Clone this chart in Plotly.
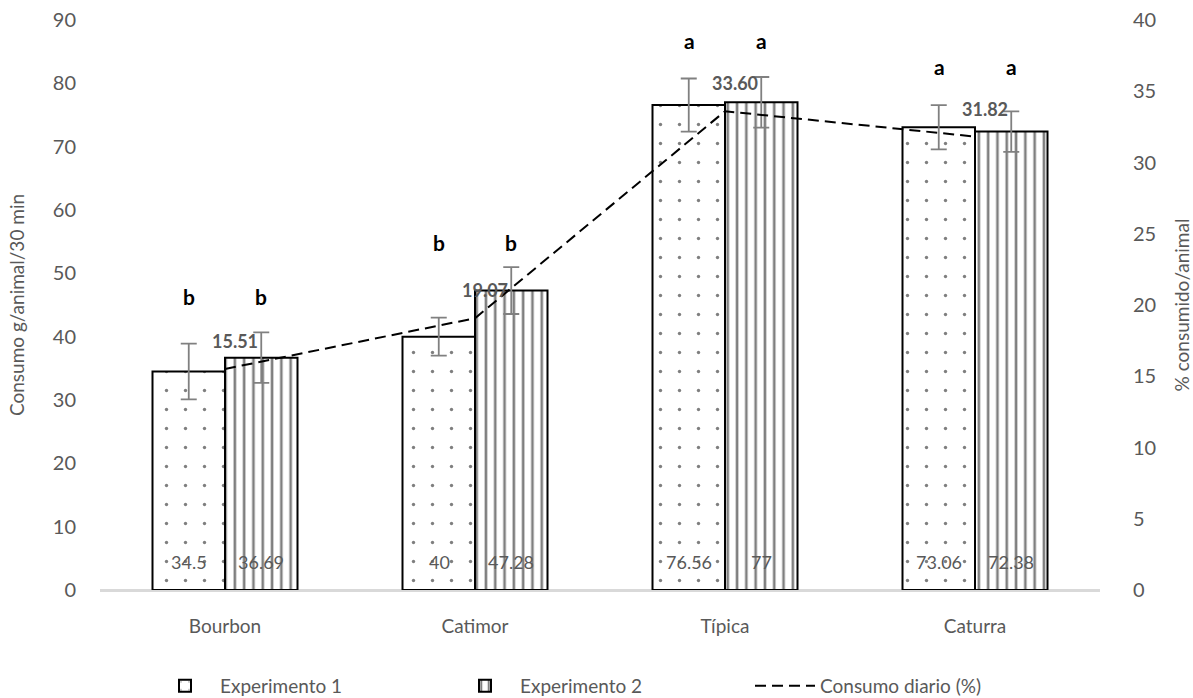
import plotly.graph_objects as go

categories = ["Bourbon", "Catimor", "Típica", "Caturra"]
exp1 = [34.5, 40, 76.56, 73.06]
exp2 = [36.69, 47.28, 77, 72.38]
exp1_err = [4.4, 3.0, 4.2, 3.5]
exp2_err = [4.0, 3.7, 4.0, 3.2]
consumo = [15.51, 19.07, 33.60, 31.82]
exp1_letters = ["b", "b", "a", "a"]
exp2_letters = ["b", "b", "a", "a"]
letter_y = [46.4, 54.8, 86.8, 82.6]
exp1_text = ["34.5", "40", "76.56", "73.06"]
exp2_text = ["36.69", "47.28", "77", "72.38"]

GRAY = "#595959"
FONT = "Lato, 'Open Sans', sans-serif"

fig = go.Figure()
fig.add_trace(go.Bar(
    name="Experimento 1", x=categories, y=exp1,
    marker=dict(color="white", line=dict(color="black", width=2),
                pattern=dict(shape=".", size=19, solidity=0.025, fgcolor="black", bgcolor="white")),
    error_y=dict(type="data", array=exp1_err, color="#808080", thickness=1.8, width=8),
))
fig.add_trace(go.Bar(
    name="Experimento 2", x=categories, y=exp2,
    marker=dict(color="white", line=dict(color="black", width=2),
                pattern=dict(shape="|", size=9.3, solidity=0.28, fgcolor="black", bgcolor="white")),
    error_y=dict(type="data", array=exp2_err, color="#808080", thickness=1.8, width=8),
))
fig.add_trace(go.Scatter(
    name="Consumo diario (%)", x=categories, y=consumo, yaxis="y2",
    mode="lines", line=dict(color="black", width=2, dash="11px,6px"),
))

for i, c in enumerate(categories):
    fig.add_annotation(x=c, y=letter_y[i], text="<b>%s</b>" % exp1_letters[i], showarrow=False,
                       xshift=-36, font=dict(size=21, color="black", family=FONT))
    fig.add_annotation(x=c, y=letter_y[i], text="<b>%s</b>" % exp2_letters[i], showarrow=False,
                       xshift=36, font=dict(size=21, color="black", family=FONT))
    fig.add_annotation(x=c, y=consumo[i], yref="y2", text="<b>%.2f</b>" % consumo[i], showarrow=False,
                       xshift=10, yshift=28, font=dict(size=18, color=GRAY, family=FONT))
    fig.add_annotation(x=c, y=0, text=exp1_text[i], showarrow=False, xshift=-36, yshift=28,
                       font=dict(size=18, color=GRAY, family=FONT))
    fig.add_annotation(x=c, y=0, text=exp2_text[i], showarrow=False, xshift=36, yshift=28,
                       font=dict(size=18, color=GRAY, family=FONT))

fig.update_layout(
    width=1193, height=698,
    margin=dict(l=100, r=93, t=20, b=108, autoexpand=False),
    paper_bgcolor="white", plot_bgcolor="white",
    barmode="group", bargap=0.42, bargroupgap=0,
    font=dict(family=FONT, color=GRAY, size=19),
    showlegend=True,
    legend=dict(orientation="h", x=0.5, xanchor="center", y=-0.135, yanchor="top",
                font=dict(size=19, color=GRAY, family=FONT), itemwidth=60,
                entrywidth=225, entrywidthmode="pixels"),
    xaxis=dict(showline=True, linecolor="#d9d9d9", linewidth=1.5, ticks="",
               tickfont=dict(size=19, color=GRAY), ticklabelstandoff=18),
    yaxis=dict(range=[0, 90], dtick=10, showgrid=False, zeroline=True,
               zerolinecolor="#d9d9d9", zerolinewidth=1.5,
               title=dict(text="Consumo g/animal/30 min", font=dict(size=19, color=GRAY), standoff=23),
               tickfont=dict(size=20, color=GRAY), ticklabelstandoff=23),
    yaxis2=dict(range=[0, 40], dtick=5, overlaying="y", side="right", showgrid=False, zeroline=False,
                title=dict(text="% consumido/animal", font=dict(size=19, color=GRAY), standoff=22),
                tickfont=dict(size=20, color=GRAY), ticklabelstandoff=32),
)

fig.write_html("out.html", config={"displayModeBar": False},
               post_script="document.body.style.margin='0';")
